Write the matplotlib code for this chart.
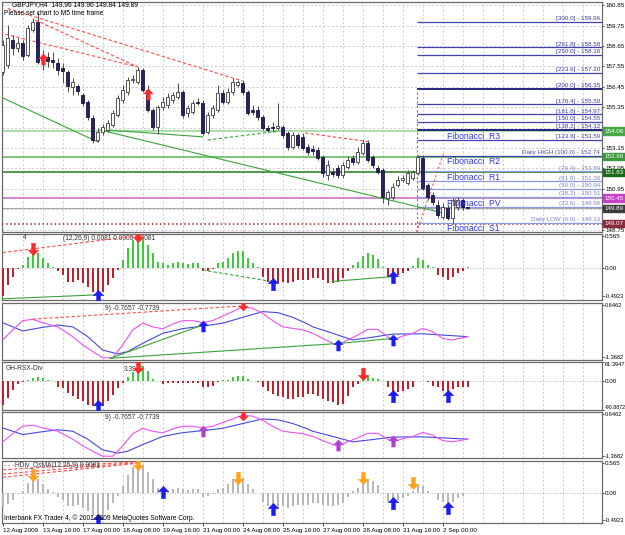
import matplotlib
matplotlib.use("Agg")
import matplotlib.pyplot as plt
import matplotlib.transforms as mtransforms
from matplotlib.path import Path
import numpy as np

plt.rcParams['font.family'] = ['Liberation Sans', 'DejaVu Sans']

# ---------------- data ----------------
symbol_text = "GBPJPY,H4  149.96 149.96 149.84 149.89"
note_text = "Please set chart to M5 time frame"

opens = [157.25,157.63,158.97,158.54,158.81,158.17,159.51,159.94,158.00,158.06,
         157.90,157.73,157.46,157.25,156.44,156.49,156.01,155.63,154.77,153.58,
         154.02,154.12,154.39,154.93,155.74,156.17,156.82,156.71,157.36,156.28,
         155.20,154.28,155.36,155.47,155.74,155.90,156.17,155.04,155.09,155.63,
         155.58,154.02,154.93,155.20,156.12,155.63,156.17,156.55,156.66,156.17,
         155.20,155.20,154.82,154.23,154.28,154.23,154.28,153.96,153.21,153.85,
         153.75,153.21,153.10,153.04,152.67,151.70,151.86,152.07,151.70,152.13,
         152.61,152.40,152.88,153.42,152.67,152.07,151.97,150.46,150.51,151.16,
         151.43,151.27,151.54,151.81,152.61,151.16,150.62,150.08,149.43,149.92,
         149.38,149.97,150.35,149.96]
highs = [158.97,159.78,159.24,159.08,158.97,159.78,160.16,160.48,158.43,158.33,
         158.33,158.00,157.73,157.36,156.93,156.60,156.12,155.74,154.93,154.23,
         154.45,154.66,155.20,156.01,156.55,156.98,157.09,157.52,157.46,156.55,
         155.31,155.47,155.90,156.12,156.17,156.66,156.28,155.47,155.74,155.85,
         155.74,155.09,155.47,156.55,156.28,156.39,156.93,156.82,156.82,156.28,
         155.47,155.42,154.93,154.39,154.55,155.58,154.39,154.07,154.02,153.96,
         153.96,153.37,153.31,153.21,152.78,152.51,152.07,152.24,152.40,152.72,
         152.78,153.21,153.58,153.58,152.78,152.24,152.07,150.89,151.27,151.64,
         151.70,151.97,151.97,152.78,152.78,151.27,150.78,150.35,150.19,150.08,
         150.46,150.51,150.46,149.96]
lows = [157.09,157.46,158.17,158.33,157.90,158.06,159.41,157.68,157.36,157.52,
        157.46,157.09,156.66,156.17,156.01,156.01,155.42,154.66,153.42,153.48,
        153.85,154.02,154.28,154.82,155.58,156.01,156.66,156.60,156.17,155.09,
        154.12,153.91,155.20,155.31,155.58,155.79,154.77,154.82,154.99,155.47,
        153.85,153.91,154.77,155.09,155.52,155.52,156.01,156.44,156.01,154.93,
        154.93,154.66,154.12,154.02,154.02,154.12,153.69,153.04,153.10,153.15,
        153.04,152.78,152.78,152.51,151.59,151.43,151.59,151.54,151.54,152.02,
        152.24,152.29,152.78,152.40,152.07,151.75,150.19,150.08,150.35,151.05,
        151.32,151.16,151.43,151.70,150.89,150.35,150.08,149.38,149.33,149.27,
        149.11,149.81,149.81,149.84]
closes = [158.70,159.08,158.54,158.81,158.11,159.62,159.94,157.79,157.90,157.84,
          157.79,157.36,157.30,156.49,156.71,156.23,155.58,154.82,153.58,154.02,
          154.28,154.50,155.04,155.85,156.28,156.82,156.87,157.36,156.28,155.20,
          154.28,155.36,155.63,155.90,156.01,156.17,154.93,155.31,155.58,155.58,
          153.96,154.93,155.31,156.12,155.63,156.17,156.71,156.71,156.17,155.04,
          155.09,154.82,154.23,154.12,154.23,154.34,153.85,153.21,153.85,153.31,
          153.15,152.94,152.99,152.61,151.81,152.24,151.75,151.70,152.24,152.51,
          152.40,152.94,153.42,152.51,152.24,151.86,150.51,150.78,151.05,151.43,
          151.54,151.81,151.86,152.67,151.00,150.51,150.24,149.54,149.97,149.38,
          150.35,150.35,149.96,149.89]

time_labels = ["12 Aug 2009", "13 Aug 16:00", "17 Aug 00:00", "18 Aug 08:00",
               "19 Aug 16:00", "21 Aug 00:00", "24 Aug 08:00", "25 Aug 16:00",
               "27 Aug 00:00", "28 Aug 08:00", "31 Aug 16:00", "2 Sep 00:00"]
time_label_bars = [0, 8, 16, 24, 32, 40, 48, 56, 64, 72, 80, 88]

price_ticks = [148.75, 149.85, 150.95, 152.05, 153.15, 154.25, 155.35,
               156.45, 157.55, 158.65, 159.75, 160.85]
hidden_ticks = [149.85, 154.25]   # covered by the coloured price boxes

fib_levels = [300.0, 261.8, 250.0, 223.6, 200.0, 176.4, 161.8, 150.0, 138.2,
              123.6, 100.0, 76.4, 61.8, 50.0, 38.2, 23.6, 0.0]
fib_prices = [159.96, 158.58, 158.16, 157.20, 156.35, 155.50, 154.97, 154.55,
              154.12, 153.59, 152.74, 151.89, 151.36, 150.94, 150.51, 149.98, 149.13]
fib_start_bar = 82.8
fib_high_bar = 88.2

pivot_names = ["Fibonacci  R3", "Fibonacci  R2", "Fibonacci  R1",
               "Fibonacci  PV", "Fibonacci  S1"]
pivot_prices = [154.06, 152.68, 151.83, 150.45, 149.07]
current_price = 149.89

macd_hist = [-0.49,-0.30,-0.15,-0.01,0.05,0.20,0.29,0.26,0.17,0.08,
             0.02,-0.06,-0.12,-0.24,-0.24,-0.21,-0.27,-0.33,-0.42,-0.44,
             -0.42,-0.30,-0.18,-0.04,0.14,0.35,0.49,0.565,0.55,0.40,
             0.26,0.11,0.08,0.05,0.08,0.11,0.08,0.07,0.08,0.08,
             -0.06,-0.05,-0.01,0.08,0.11,0.17,0.26,0.29,0.29,0.17,
             0.08,0.01,-0.15,-0.24,-0.27,-0.27,-0.24,-0.27,-0.24,-0.21,
             -0.21,-0.21,-0.18,-0.18,-0.21,-0.26,-0.26,-0.24,-0.18,-0.06,
             0.05,0.11,0.21,0.26,0.23,0.15,0.01,-0.15,-0.15,-0.12,
             -0.08,-0.05,0.04,0.17,0.14,0.05,0.01,-0.12,-0.15,-0.21,
             -0.15,-0.09,-0.05,0.01]
osma_hist = [-0.25,-0.19,-0.12,-0.01,0.05,0.20,0.29,0.26,0.17,0.08,
             0.02,-0.06,-0.12,-0.24,-0.24,-0.21,-0.27,-0.33,-0.42,-0.46,
             -0.42,-0.30,-0.18,-0.04,0.14,0.35,0.49,0.55,0.52,0.40,
             0.26,0.11,0.08,0.05,0.08,0.11,0.08,0.07,0.08,0.08,
             -0.06,-0.05,-0.01,0.08,0.11,0.17,0.26,0.29,0.29,0.17,
             0.08,0.01,-0.15,-0.24,-0.27,-0.27,-0.24,-0.27,-0.24,-0.21,
             -0.21,-0.21,-0.18,-0.18,-0.21,-0.24,-0.24,-0.22,-0.18,-0.06,
             0.05,0.11,0.21,0.26,0.23,0.15,0.01,-0.15,-0.15,-0.12,
             -0.08,-0.05,0.04,0.17,0.14,0.05,0.01,-0.12,-0.15,-0.21,
             -0.15,-0.09,-0.05,0.01]
rsx_hist = [-74,-54,-28,-9,-2,5,12,14,12,5,
            2,-17,-21,-38,-48,-58,-64,-74,-80,-88,
            -80,-64,-43,-21,-5,13,29,44,50,34,
            8,1,-9,-5,-4,-5,-6,-4,-5,-6,
            -19,-19,-14,-2,3,5,13,18,16,8,
            2,-1,-19,-30,-40,-46,-51,-57,-57,-51,
            -51,-40,-40,-46,-57,-62,-67,-77,-72,-46,
            -19,-9,13,18,10,6,1,-19,-35,-35,
            -30,-25,-19,2,1,-3,-14,-19,-30,-30,
            -25,-19,-19,-19]

blue_bars = [0,4,8,11,14,17,20,23,25,28,32,36,40,44,48,52,55,58,61,
             62,66,70,74,78,84,88,93]
blue_vals = [-0.04,-0.36,-0.22,-0.13,-0.20,-0.58,-1.10,-1.25,-1.16,-0.84,
             -0.45,-0.27,-0.17,-0.06,0.17,0.39,0.35,0.17,-0.09,
             -0.20,-0.45,-0.71,-0.60,-0.48,-0.47,-0.52,-0.58]
mag_bars = [0,2,4,6,8,11,14,16,18,20,22,24,26,28,30,32,34,36,38,40,42,44,46,
            48,50,52,54,56,58,60,62,64,66,67,69,71,73,75,77,78,80,82,84,86,88,90,93]
mag_vals = [-0.71,-0.32,0.04,0.09,-0.04,-0.20,-0.58,-0.90,-1.16,-1.40,-1.40,
            -0.90,-0.32,-0.06,-0.20,-0.28,-0.09,0.04,0.04,-0.04,0.04,0.22,0.39,
            0.58,0.52,0.32,0.04,-0.20,-0.26,-0.32,-0.45,-0.65,-0.84,-0.90,-0.71,
            -0.52,-0.30,-0.30,-0.58,-0.71,-0.56,-0.45,-0.26,-0.39,-0.65,-0.71,-0.58]

# divergence / trend lines: [(bar, value), (bar, value)]
main_red_dashed = [[(1, 160.67), (48, 156.76)], [(6.5, 160.05), (27, 157.52)],
                   [(-0.5, 159.35), (27, 157.52)], [(60.5, 153.96), (73.5, 153.48)]]
main_green_solid = [[(0, 155.85), (19, 153.48)], [(19.5, 154.12), (88, 149.65)],
                    [(21, 154.12), (40, 153.75)]]
main_green_dashed = [[(41, 153.58), (55.5, 154.07)]]
p2_red_dashed = [[(0, 0.27), (27, 0.565)]]
p2_green_solid = [[(0, -0.54), (19, -0.47)], [(66, -0.234), (78.5, -0.148)]]
p2_green_dashed = [[(40, -0.035), (54, -0.24)]]
p3_red_dashed = [[(6, 0.10), (48, 0.61)]]
p3_green_solid = [[(21.5, -1.42), (40, -0.13)], [(21.5, -1.42), (67.5, -0.84)],
                  [(67.5, -0.84), (78.5, -0.64)]]
p6_red_dashed = [[(0, 0.44), (27, 0.59)], [(0, 0.36), (27, 0.575)], [(0, 0.30), (27, 0.56)]]

# signal arrows (bar, value)
main_up_bars, main_up_vals = [8, 29], [157.95, 156.05]
p2_dn_bars, p2_dn_vals = [6, 27], [0.33, 0.56]
p2_up_bars, p2_up_vals = [19, 54, 78], [-0.49, -0.28, -0.16]
p3_dn_bars, p3_dn_vals = [48], [0.63]
p3_up_bars, p3_up_vals = [40, 67, 78], [-0.17, -0.90, -0.71]
p4_dn_bars, p4_dn_vals = [27, 72], [45, 23]
p4_up_bars, p4_up_vals = [19, 78, 89], [-78, -46, -46]
p5_dn_bars, p5_dn_vals = [48], [0.58]
p5_up_bars, p5_up_vals = [40, 67, 78], [-0.19, -0.86, -0.67]
p6_dn_bars, p6_dn_vals = [6, 27, 47, 72, 82], [0.34, 0.55, 0.29, 0.29, 0.20]
p6_up_bars, p6_up_vals = [19, 32, 54, 78, 89], [-0.49, 0.03, -0.29, -0.18, -0.27]

# ---------------- figure ----------------
FS = 4.8
FSR = 4.5    # right-hand scale labels
FSL = 4.1    # long right-hand labels
FSXL = 3.75  # very long right-hand labels
fig = plt.figure(figsize=(6.25, 5.35), dpi=100)
fig.patch.set_facecolor('white')
FW, FH = 625.0, 535.0
LPX, RPX = 2.0, 602.0
XL = (-0.14, 119.86)


def make_ax(top, bottom):
    return fig.add_axes([LPX / FW, 1 - bottom / FH, (RPX - LPX) / FW, (bottom - top) / FH])


ax0 = make_ax(2, 232)
ax1 = make_ax(234, 300)
ax2 = make_ax(303, 360)
ax3 = make_ax(362, 410)
ax4 = make_ax(412, 458)
ax5 = make_ax(461, 523)
axes = [ax0, ax1, ax2, ax3, ax4, ax5]

GRID = dict(color='#c6c6c6', lw=0.6, ls=(0, (2.5, 2.5)), zorder=0)
for ax in axes:
    ax.set_xlim(*XL)
    ax.set_facecolor('white')
    ax.yaxis.tick_right()
    ax.tick_params(axis='y', length=1.6, width=0.5, pad=0.6, labelsize=FSR, colors='black')
    ax.set_xticks([])
    for s in ax.spines.values():
        s.set_color('#6a6a6a')
        s.set_linewidth(0.9)
    for b in range(4, 120, 4):
        ax.axvline(b, **GRID)


def shrink_labels(ax):
    for t in ax.get_yticklabels():
        s = t.get_text()
        if len(s) >= 8:
            t.set_fontsize(FSXL)
        elif len(s) >= 7 or (len(s) == 6 and not s[0].isdigit()):
            t.set_fontsize(FSL)
        elif len(s) == 6 and s.count('.') and len(s.split('.')[1]) == 4:
            t.set_fontsize(FSL)


def segments(ax, segs, color, ls='-', lw=0.8):
    for (xa, ya), (xb_, yb_) in segs:
        ax.plot([xa, xb_], [ya, yb_], color=color, ls=ls, lw=lw, zorder=5)


up_verts = [(0, 1), (0.85, 0.12), (0.32, 0.12), (0.32, -1), (-0.32, -1),
            (-0.32, 0.12), (-0.85, 0.12), (0, 1)]
codes = [Path.MOVETO] + [Path.LINETO] * 6 + [Path.CLOSEPOLY]
UP = Path(up_verts, codes)
DOWN = Path([(vx, -vy) for vx, vy in up_verts], codes)


def arrows(ax, bars, vals, marker, color, ms=9):
    ax.plot(bars, vals, ls='none', marker=marker, ms=ms, color=color,
            mec=color, mew=0.3, zorder=8)


RED = '#ff2a2a'
BLUE = '#1c1cf0'
ORANGE = '#ffa31a'
PURPLE = '#b040d0'
GREEN_LINE = '#39a539'
RED_DASH = (0, (3, 2))

# ---------------- main price chart ----------------
ax0.set_ylim(148.62, 161.02)
ax0.set_yticks(price_ticks)
ax0.set_yticklabels(['' if p in hidden_ticks else '%.2f' % p for p in price_ticks])
for p in price_ticks:
    ax0.axhline(p, **GRID)

n = len(closes)
xb = np.arange(n)
o, h, l, c = (np.array(a) for a in (opens, highs, lows, closes))
bull = c >= o
body_bot = np.minimum(o, c)
body_h = np.maximum(np.abs(c - o), 0.03)
ax0.vlines(xb, l, h, color='#4a4a4a', lw=0.7, zorder=6)
ax0.bar(xb[bull], body_h[bull], bottom=body_bot[bull], width=0.62,
        color='white', edgecolor='#3a3a3a', lw=0.6, zorder=7)
ax0.bar(xb[~bull], body_h[~bull], bottom=body_bot[~bull], width=0.62,
        color='#2b1f5e', edgecolor='#1a1440', lw=0.6, zorder=7)

# pivot lines
pivot_line_colors = ['#95d695', '#55b855', '#1f7a1f', '#c864c8', '#a02828']
pivot_box_colors = ['#45a845', '#3a983a', '#1a6a1a', '#c840c8', '#8c2a3c']
pivot_ls = ['-', '-', '-', '-', ':']
for pp, col, lst in zip(pivot_prices, pivot_line_colors, pivot_ls):
    ax0.axhline(pp, color=col, lw=1.1, ls=lst, zorder=2)
ax0.axhline(current_price, color='#a8a8a8', lw=0.8, zorder=2)

# fibonacci levels
for lvl, fp in zip(fib_levels, fib_prices):
    if lvl in (200.0, 138.2):
        col, lw = '#15157a', 1.3
    elif lvl >= 100:
        col, lw = '#4040b0', 0.9
    else:
        col, lw = '#8e9ae0', 0.9
    ax0.hlines(fp, fib_start_bar, XL[1], color=col, lw=lw, zorder=3)
    if lvl > 100:
        txt = '[%.1f] - %.2f' % (lvl, fp)
        tcol = '#3c3c9c'
    elif lvl == 100:
        txt = 'Daily HIGH (%.1f) - %.2f' % (lvl, fp)
        tcol = '#4c4cb0'
    elif lvl == 0:
        txt = 'Daily LOW (%.1f) - %.2f' % (lvl, fp)
        tcol = '#7c84c8'
    else:
        txt = '(%.1f) - %.2f' % (lvl, fp)
        tcol = '#7c84c8'
    ax0.text(119.5, fp + 0.03, txt, fontsize=4.5, color=tcol, ha='right',
             va='bottom', zorder=9)
ax0.vlines(fib_start_bar, 148.62, fib_prices[4], color='#ff4040',
           lw=0.8, ls=(0, (2, 2)), zorder=4)
ax0.plot([fib_start_bar, fib_high_bar], [148.62, fib_prices[10] + 0.14],
         color='#ff5050', lw=0.8, ls=(0, (2, 2)), zorder=4)

for name, pp in zip(pivot_names, pivot_prices):
    ax0.text(88.9, pp - 0.03, name, fontsize=6.2, color='#3038e8', ha='left',
             va='top', zorder=9, clip_on=True)

# trend lines
segments(ax0, main_red_dashed, '#ff4a4a', RED_DASH)
segments(ax0, main_green_solid, GREEN_LINE, '-')
segments(ax0, main_green_dashed, GREEN_LINE, RED_DASH)
arrows(ax0, main_up_bars, main_up_vals, UP, RED, ms=8)

# right-side price boxes
tr0 = mtransforms.blended_transform_factory(ax0.transAxes, ax0.transData)
for pp, bc in list(zip(pivot_prices, pivot_box_colors)) + [(current_price, '#3c3c3c')]:
    ax0.text(1.004, pp, '%.2f' % pp, transform=tr0, fontsize=FSR, color='white',
             ha='left', va='center', clip_on=False, zorder=20,
             bbox=dict(boxstyle='square,pad=0.2', fc=bc, ec=bc))

ax0.text(0.017, 0.987, symbol_text, transform=ax0.transAxes, fontsize=FS,
         ha='left', va='center', zorder=20)
ax0.text(0.004, 0.950, note_text, transform=ax0.transAxes, fontsize=FS,
         ha='left', va='center', zorder=20)

# ---------------- panel 2: MACD histogram ----------------
ax1.set_ylim(-0.561, 0.596)
ax1.set_yticks([0.565, 0.0, -0.4923])
ax1.set_yticklabels(['0.565', '0.00', '-0.4923'])
ax1.axhline(0, color='#a0a0a0', lw=0.6, ls=(0, (1, 2)), zorder=1)
mh = np.array(macd_hist)
ax1.bar(xb, mh, width=0.4, color=np.where(mh >= 0, '#3ccc3c', '#c0202c'), zorder=4)
segments(ax1, p2_red_dashed, '#ff4a4a', RED_DASH)
segments(ax1, p2_green_solid, GREEN_LINE, '-')
segments(ax1, p2_green_dashed, GREEN_LINE, RED_DASH)
arrows(ax1, p2_dn_bars, p2_dn_vals, DOWN, RED)
arrows(ax1, p2_up_bars, p2_up_vals, UP, BLUE)
ax1.text(0.034, 0.94, '4', transform=ax1.transAxes, fontsize=FS, va='center', color='#333')
ax1.text(0.069, 0.94, ':', transform=ax1.transAxes, fontsize=FS, va='center', color='#333')
ax1.text(0.102, 0.93, '(12,26,9) 0.0081 0.0000 0.0081', transform=ax1.transAxes,
         fontsize=FS, va='center', color='#333', zorder=3)

# ---------------- panel 3 & 5: signal lines ----------------
for ax, dnb, dnv, upb, upv, upc, lab_y in (
        (ax2, p3_dn_bars, p3_dn_vals, p3_up_bars, p3_up_vals, BLUE, 0.91),
        (ax4, p5_dn_bars, p5_dn_vals, p5_up_bars, p5_up_vals, PURPLE, 0.89)):
    ax.set_ylim(-1.486, 0.724)
    ax.set_yticks([0.6462, -1.3682])
    ax.set_yticklabels(['0.6462', '-1.3682'])
    ax.plot(blue_bars, blue_vals, color='#4848e0', lw=0.8, zorder=4)
    ax.plot(mag_bars, mag_vals, color='#f050f0', lw=0.8, zorder=4)
    arrows(ax, dnb, dnv, DOWN, RED, ms=8)
    arrows(ax, upb, upv, UP, upc, ms=8)
    ax.text(0.172, lab_y, '9) -0.7657 -0.7739', transform=ax.transAxes,
            fontsize=FS, va='center', color='#333')
segments(ax2, p3_red_dashed, '#ff4a4a', RED_DASH)
segments(ax2, p3_green_solid, GREEN_LINE, '-')

# ---------------- panel 4: RSX histogram ----------------
ax3.set_ylim(-91.5, 61.5)
ax3.set_yticks([61.3947, 0.0, -90.8872])
lbls = ax3.set_yticklabels(['61.3947', '0.00', '-90.8872'])
lbls[0].set_va('top')
lbls[2].set_va('bottom')
ax3.axhline(0, color='#a0a0a0', lw=0.6, ls=(0, (1, 2)), zorder=1)
rh = np.array(rsx_hist)
ax3.bar(xb, rh, width=0.4, color=np.where(rh >= 0, '#3ccc3c', '#c0202c'), zorder=4)
arrows(ax3, p4_dn_bars, p4_dn_vals, DOWN, RED)
arrows(ax3, p4_up_bars, p4_up_vals, UP, BLUE)
ax3.text(0.006, 0.86, 'GH-RSX-Div', transform=ax3.transAxes, fontsize=FS,
         va='center', color='#333')
ax3.text(0.203, 0.84, '3.3947', transform=ax3.transAxes, fontsize=FS,
         va='center', color='#333')

# ---------------- panel 6: OsMA histogram ----------------
ax5.set_ylim(-0.548, 0.602)
ax5.set_yticks([0.565, 0.0, -0.4923])
ax5.set_yticklabels(['0.565', '0.00', '-0.4923'])
ax5.axhline(0, color='#a0a0a0', lw=0.6, ls=(0, (1, 2)), zorder=1)
ax5.bar(xb, osma_hist, width=0.4, color='#b8b8b8', zorder=4)
segments(ax5, p6_red_dashed, '#ff4a4a', RED_DASH)
arrows(ax5, p6_dn_bars, p6_dn_vals, DOWN, ORANGE)
arrows(ax5, p6_up_bars, p6_up_vals, UP, BLUE)
ax5.text(0.004, 0.92, '- - -', transform=ax5.transAxes, fontsize=FS,
         va='center', color='#ff3030', zorder=9)
ax5.text(0.022, 0.92, 'HDiv_OsMA(12,26,9) 0.0081', transform=ax5.transAxes,
         fontsize=FS, va='center', color='#333', zorder=9)
ax5.text(0.004, 0.07, 'Interbank FX Trader 4, \u00a9 2001-2009 MetaQuotes Software Corp.',
         transform=ax5.transAxes, fontsize=FS, va='center', color='black', zorder=9)

ax5.set_xticks(time_label_bars)
ax5.set_xticklabels(time_labels, fontsize=4.5, ha='left')
ax5.tick_params(axis='x', length=2, width=0.5, pad=1.5)

for ax in (ax1, ax2, ax3, ax4, ax5):
    shrink_labels(ax)

fig.savefig('out.png', dpi=100, facecolor='white')
